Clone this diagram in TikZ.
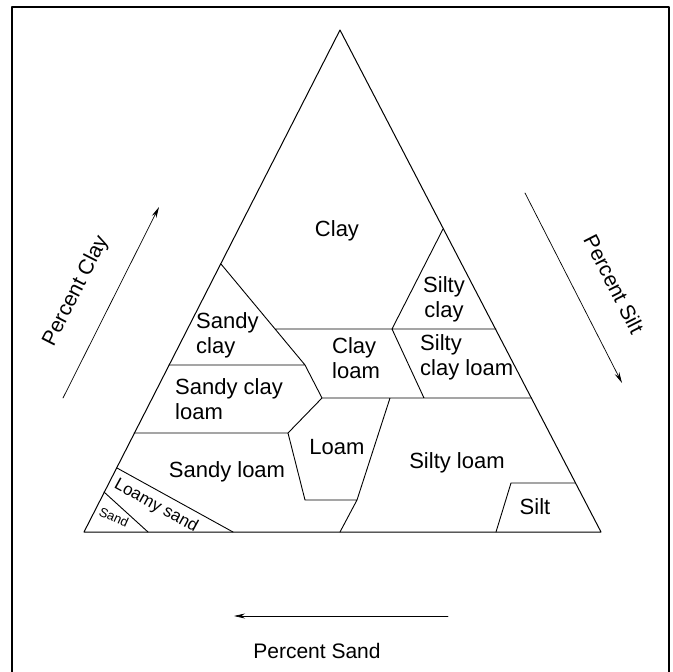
\documentclass[tikz,border=0pt]{standalone}
\usepackage{fontspec}
\setmainfont{Liberation Sans}
\usetikzlibrary{arrows.meta}

\begin{document}
\begin{tikzpicture}[x=1pt, y=-1pt, line join=round, line cap=round, >={Stealth[length=11pt,width=5pt]},
	soil/.style={font=\fontsize{22}{25}\selectfont, inner sep=0pt},
	axislabel/.style={font=\fontsize{21}{24}\selectfont, inner sep=0pt}]
	\useasboundingbox (0,0) rectangle (672,672);
	%\draw[color=gray!50,dashed,step=50] (0,0) grid (672,672);
	\draw[line width=1.6pt] (12,675)--(12,7)--(669,7)--(669,675);
	% corners
	\coordinate (top) at (340,30); \coordinate (bl) at (84,532); \coordinate (br) at (601,532);
	% points on the sides
	\coordinate (a1) at (221,264); \coordinate (a2) at (169,365); \coordinate (a3) at (134,433);
	\coordinate (a4) at (117,468); \coordinate (a5) at (104,492);
	\coordinate (b1) at (443,229); \coordinate (b2) at (496,329); \coordinate (b3) at (531,398);
	\coordinate (b4) at (575,483);
	\coordinate (e1) at (233,532); \coordinate (e2) at (148,532);
	\coordinate (c8) at (340,532); \coordinate (d2) at (496,532);
	% inner points
	\coordinate (c1) at (275,329); \coordinate (c2) at (305,365); \coordinate (c3) at (322,398);
	\coordinate (c4) at (288,433); \coordinate (c5) at (305,500); \coordinate (c6) at (357,500);
	\coordinate (c7) at (390,398); \coordinate (c9) at (392,329); \coordinate (c10) at (424,398);
	\coordinate (d1) at (511,483);
	\draw[line width=1pt] (bl)--(top)--(br)--cycle;
	\draw[line width=0.9pt] (a1)--(c2)--(c3)--(c4) (a2)--(c2) (c1)--(b2)
		(b1)--(c9)--(c10) (c3)--(b3) (a3)--(c4)--(c5)--(c6)--(c7) (c6)--(c8)
		(a4)--(e1) (a5)--(e2) (b4)--(d1)--(d2);
	% soil classes
	\node[soil] (clay) at (337,231) {Clay};
	\node[soil, align=center] (siltyclay) at (444,299) {Silty\\clay};
	\node[soil, align=left, anchor=west] (sandyclay) at (196,335) {Sandy\\clay};
	\node[soil, align=left, anchor=west] (clayloam) at (332,358) {Clay\\loam};
	\node[soil, align=left, anchor=west] (siltyclayloam) at (420,357) {Silty\\clay loam};
	\node[soil, align=left, anchor=west] (sandyclayloam) at (175,399) {Sandy clay\\loam};
	\node[soil] (loam) at (337,447) {Loam};
	\node[soil] (siltyloam) at (457,463) {Silty loam};
	\node[soil] (sandyloam) at (227,472) {Sandy loam};
	\node[soil] (silt) at (535,507) {Silt};
	\node[soil, font=\fontsize{17}{20}\selectfont, rotate=-28.7] (loamysand) at (156,506) {Loamy sand};
	\node[soil, font=\fontsize{13}{15}\selectfont, rotate=-24] (sand) at (114,517) {Sand};
	% axes
	\coordinate (clayS) at (63,398); \coordinate (clayE) at (159,207);
	\coordinate (siltS) at (525,193); \coordinate (siltE) at (622,383);
	\coordinate (sandS) at (448,616); \coordinate (sandE) at (234,616);
	\draw[->, line width=0.7pt] (clayS)--(clayE);
	\draw[->, line width=0.7pt] (siltS)--(siltE);
	\draw[->, line width=0.7pt] (sandS)--(sandE);
	\node[axislabel, rotate=63] (pclay) at (76,291) {Percent Clay};
	\node[axislabel, rotate=-63] (psilt) at (614,284) {Percent Silt};
	\node[axislabel] (psand) at (317,651) {Percent Sand};
\end{tikzpicture}
\end{document}
